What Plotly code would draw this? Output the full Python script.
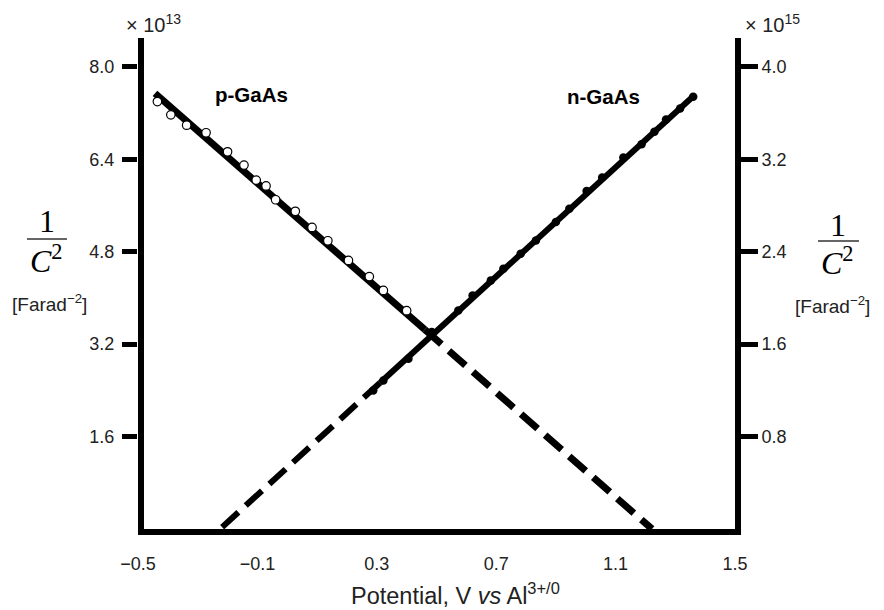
import plotly.graph_objects as go

# ---- data ----
# p-GaAs measured points (left axis, x 1e13 F^-2)
p_x = [-0.435, -0.390, -0.337, -0.272, -0.200, -0.145, -0.104, -0.071, -0.039,
       0.027, 0.083, 0.136, 0.205, 0.275, 0.322, 0.400]
p_y = [7.40, 7.17, 6.99, 6.86, 6.53, 6.30, 6.04, 5.94, 5.70,
       5.50, 5.22, 4.99, 4.65, 4.37, 4.13, 3.78]
# p-GaAs fit line (solid part, extrapolated dashed part)
p_fit_x = [-0.443, 0.461]
p_fit_y = [7.54, 3.45]
p_ext_x = [0.461, 1.222]
p_ext_y = [3.45, 0.0]

# n-GaAs measured points (right axis, x 1e15 F^-2)
n_x = [1.360, 1.316, 1.269, 1.230, 1.187, 1.126, 1.055, 1.003, 0.945, 0.900,
       0.833, 0.782, 0.724, 0.682, 0.621, 0.573, 0.484, 0.406, 0.322, 0.288]
n_y = [3.741, 3.640, 3.544, 3.438, 3.330, 3.215, 3.042, 2.926, 2.773, 2.658,
       2.498, 2.383, 2.253, 2.152, 2.022, 1.892, 1.705, 1.473, 1.285, 1.198]
# n-GaAs fit line
n_fit_x = [1.363, 0.311]
n_fit_y = [3.752, 1.266]
n_ext_x = [0.311, -0.225]
n_ext_y = [1.266, 0.0]

# ticks
x_tickvals = [-0.5, -0.1, 0.3, 0.7, 1.1, 1.5]
x_ticktext = ["\u22120.5", "\u22120.1", "0.3", "0.7", "1.1", "1.5"]
x_inner_ticks = [-0.1, 0.3, 0.7, 1.1]
yl_tickvals = [1.6, 3.2, 4.8, 6.4, 8.0]
yl_ticktext = ["1.6", "3.2", "4.8", "6.4", "8.0"]
yr_tickvals = [0.8, 1.6, 2.4, 3.2, 4.0]
yr_ticktext = ["0.8", "1.6", "2.4", "3.2", "4.0"]

# ---- layout geometry ----
W, H = 884, 610
L, R, T, B = 138, 149, 38, 81
PW, PH = W - L - R, H - T - B


def px(xp):
    return (xp - L) / PW


def py(yp):
    return (H - B - yp) / PH


SANS = "Liberation Sans, Arial, sans-serif"
SERIF = "Liberation Serif, Times New Roman, serif"
DASH = "22px,10px"

fig = go.Figure()

# p-GaAs
fig.add_trace(go.Scatter(x=p_fit_x, y=p_fit_y, mode="lines",
                         line=dict(color="black", width=7), yaxis="y",
                         showlegend=False, hoverinfo="skip"))
fig.add_trace(go.Scatter(x=p_ext_x, y=p_ext_y, mode="lines",
                         line=dict(color="black", width=7, dash=DASH), yaxis="y",
                         showlegend=False, hoverinfo="skip"))
fig.add_trace(go.Scatter(x=p_x, y=p_y, mode="markers",
                         marker=dict(symbol="circle", size=8.5, color="white",
                                     line=dict(color="black", width=1.2)),
                         yaxis="y", showlegend=False))

# n-GaAs
fig.add_trace(go.Scatter(x=n_fit_x, y=n_fit_y, mode="lines",
                         line=dict(color="black", width=6), yaxis="y2",
                         showlegend=False, hoverinfo="skip"))
fig.add_trace(go.Scatter(x=n_ext_x, y=n_ext_y, mode="lines",
                         line=dict(color="black", width=6, dash=DASH), yaxis="y2",
                         showlegend=False, hoverinfo="skip"))
fig.add_trace(go.Scatter(x=n_x, y=n_y, mode="markers",
                         marker=dict(symbol="circle", size=8.5, color="black"),
                         yaxis="y2", showlegend=False))

tickfont = dict(family=SANS, size=18, color="#222")

fig.update_layout(
    width=W, height=H,
    margin=dict(l=L, r=R, t=T, b=B, pad=0),
    paper_bgcolor="white", plot_bgcolor="white",
    showlegend=False,
    xaxis=dict(range=[-0.5, 1.5], showgrid=False, zeroline=False,
               showline=True, linecolor="black", linewidth=6,
               tickvals=x_tickvals, ticktext=x_ticktext, ticks="",
               tickfont=tickfont, ticklabelstandoff=13),
    xaxis2=dict(range=[-0.5, 1.5], overlaying="x", anchor="y", side="bottom",
                showgrid=False, zeroline=False, showline=False,
                tickvals=x_inner_ticks, ticks="outside", ticklen=17,
                tickwidth=5, tickcolor="black", showticklabels=False),
    yaxis=dict(range=[0, 8.5], showgrid=False, zeroline=False,
               showline=False,
               tickvals=yl_tickvals, ticktext=yl_ticktext, ticks="outside",
               ticklen=15, tickwidth=5, tickcolor="black", tickfont=tickfont,
               ticklabelstandoff=4),
    yaxis2=dict(range=[0, 4.25], overlaying="y", side="right", anchor="x",
                showgrid=False, zeroline=False,
                showline=True, linecolor="black", linewidth=6,
                tickvals=yr_tickvals, ticktext=yr_ticktext, ticks="outside",
                ticklen=17, tickwidth=5, tickcolor="black", tickfont=tickfont),
)

ann = []


def add_text(text, xp, yp, size, family=SANS, xanchor="center", yanchor="middle",
             color="black"):
    ann.append(dict(text=text, x=px(xp), y=py(yp), xref="paper", yref="paper",
                    showarrow=False, xanchor=xanchor, yanchor=yanchor,
                    font=dict(family=family, size=size, color=color)))


add_text("\u00d7 10<sup>13</sup>", 153, 23, 20, color="#222")
add_text("\u00d7 10<sup>15</sup>", 772, 23, 20, color="#222")
add_text("<b>p-GaAs</b>", 251, 95, 20.5)
add_text("<b>n-GaAs</b>", 603, 96, 20.5)
add_text("Potential, V <i>vs</i> Al<sup>3+/0</sup>", 455, 594, 23.5, color="#222")

# left axis title as a fraction
add_text("1", 47, 221, 32, family=SERIF)
add_text("<i>C</i><sup>2</sup>", 46, 259, 32, family=SERIF)
add_text("[Farad<sup>\u22122</sup>]", 49, 303, 19, color="#222")
# right axis title
add_text("1", 838, 225, 32, family=SERIF)
add_text("<i>C</i><sup>2</sup>", 838, 261, 32, family=SERIF)
add_text("[Farad<sup>\u22122</sup>]", 833, 305, 19, color="#222")

fig.update_layout(annotations=ann)

shapes = [
    # left vertical axis line (drawn slightly inside, as in the original)
    dict(type="line", xref="paper", yref="paper", x0=px(141), x1=px(141),
         y0=py(535), y1=py(38), line=dict(color="black", width=6), layer="above"),
    # fraction bars of the axis titles
    dict(type="line", xref="paper", yref="paper", x0=px(27), x1=px(67),
         y0=py(239), y1=py(239), line=dict(color="#333", width=1.5)),
    dict(type="line", xref="paper", yref="paper", x0=px(818), x1=px(859),
         y0=py(241), y1=py(241), line=dict(color="#333", width=1.5)),
]
fig.update_layout(shapes=shapes)

fig.write_html("out.html")
